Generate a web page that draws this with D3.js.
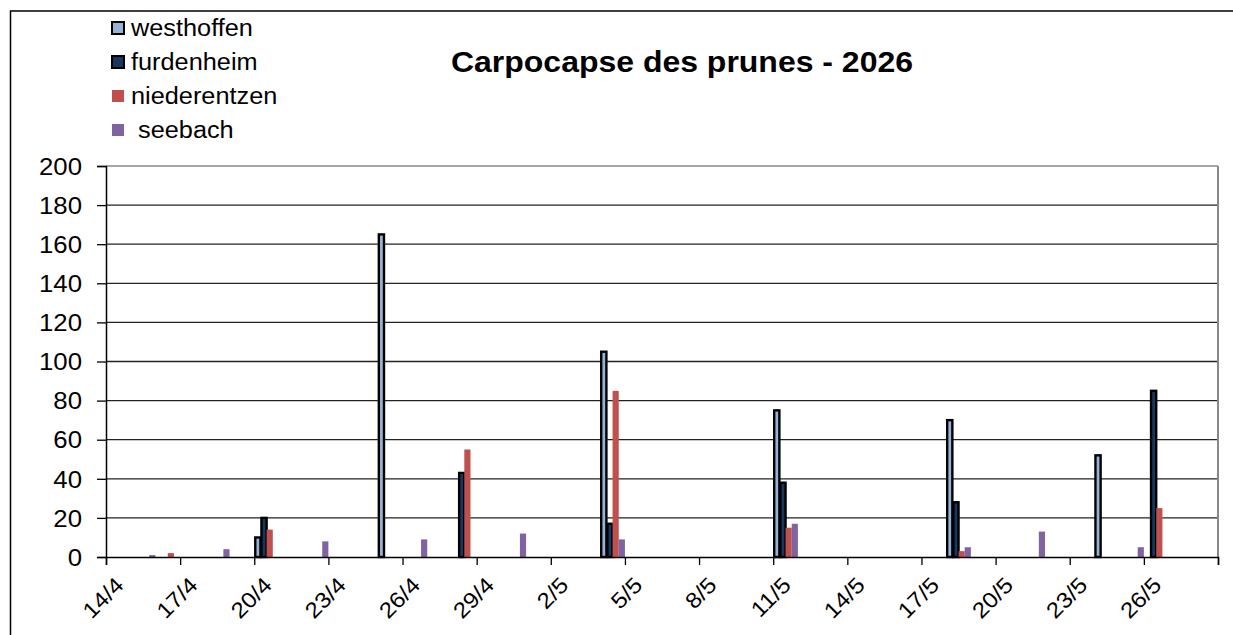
<!DOCTYPE html>
<html>
<head>
<meta charset="utf-8">
<script src="https://cdn.jsdelivr.net/npm/d3@7"></script>
<style>
  body { margin: 0; background: #fff; }
  svg { font-family: "Liberation Sans", Arial, sans-serif; }
</style>
</head>
<body>
<svg id="chart" width="1233" height="635"></svg>
<script>
// sampling dates and catches per trap
const dates        = ["15/4","16/4","18/4","20/4","22/4","25/4","26/4","28/4","30/4","4/5","11/5","18/5","21/5","24/5","25/5","26/5"];
const westhoffen   = [null, null, null, 10, null, 165, null, null, null, 105, 75, 70, null, 52, null, null];
const furdenheim   = [null, null, null, 20, null, null, null, 43, null, 17, 38, 28, null, null, null, 85];
const niederentzen = [null, 2, null, 14, null, null, null, 55, null, 85, 15, 3, null, null, null, 25];
const seebach      = [1, null, 4, null, 8, null, 9, null, 12, 9, 17, 5, 13, null, 5, null];

const seriesNames = ["westhoffen", "furdenheim", "niederentzen", " seebach"];
const seriesColors = ["#95B3D7", "#17375E", "#C0504D", "#8064A2"];
const seriesStroke = ["#000", "#000", "none", "none"];
const tickLabels = ["14/4","17/4","20/4","23/4","26/4","29/4","2/5","5/5","8/5","11/5","14/5","17/5","20/5","23/5","26/5",""];
const yTicks = [0, 20, 40, 60, 80, 100, 120, 140, 160, 180, 200];

const svg = d3.select("#chart");
const plotL = 106, plotR = 1218, plotT = 166, plotB = 557;

// the original text is a little wider than Arial, stretch it
const stretch = (sel, k) => sel.each(function() {
  const w = this.getComputedTextLength();
  if (w > 0) d3.select(this).attr("textLength", w * k).attr("lengthAdjust", "spacingAndGlyphs");
});

// outer frame
svg.append("rect")
  .attr("x", 10.5).attr("y", 11)
  .attr("width", 1240).attr("height", 640)
  .attr("fill", "none").attr("stroke", "#000").attr("stroke-width", 1.5);

// day index from 14/4
const start = new Date(2026, 3, 14);
const dayIndex = s => {
  const [d, m] = s.split("/").map(Number);
  return Math.round((new Date(2026, m - 1, d) - start) / 864e5);
};

const nDays = 45;
const x = d3.scaleLinear().domain([0, nDays]).range([plotL, plotR]);
const y = d3.scaleLinear().domain([0, 200]).range([plotB, plotT]);
const inner = d3.scaleBand().domain(d3.range(4)).range([0, x(1) - x(0)]);

// gridlines
svg.append("g")
  .selectAll("line")
  .data(yTicks.slice(1))
  .enter().append("line")
    .attr("x1", plotL).attr("x2", plotR)
    .attr("y1", d => y(d)).attr("y2", d => y(d))
    .attr("stroke", d => d === 200 ? "#888" : "#222")
    .attr("stroke-width", 1.3);

// right border of plot
svg.append("line")
  .attr("x1", plotR).attr("x2", plotR)
  .attr("y1", plotT).attr("y2", plotB)
  .attr("stroke", "#888").attr("stroke-width", 2);

// bars
const series = [westhoffen, furdenheim, niederentzen, seebach];
series.forEach((vals, i) => {
  const rows = dates.map((d, k) => ({ day: dayIndex(d), v: vals[k] })).filter(r => r.v != null);
  const stroked = seriesStroke[i] !== "none";
  svg.append("g")
    .selectAll("rect")
    .data(rows)
    .enter().append("rect")
      .attr("x", r => x(r.day) + inner(i) + (stroked ? 1 : 0))
      .attr("y", r => y(r.v))
      .attr("width", inner.bandwidth() - (stroked ? 1 : 0))
      .attr("height", r => plotB - y(r.v))
      .attr("fill", seriesColors[i])
      .attr("stroke", seriesStroke[i])
      .attr("stroke-width", 2.4);
});

// y axis
const yAxis = svg.append("g")
  .attr("transform", `translate(${plotL},0)`)
  .call(d3.axisLeft(y).tickValues(yTicks).tickSize(9).tickPadding(15));
yAxis.select(".domain").attr("stroke", "#000").attr("stroke-width", 1.5);
yAxis.selectAll(".tick line").attr("stroke", "#000").attr("stroke-width", 1.3);
yAxis.selectAll("text").style("font-size", "23px").attr("fill", "#000").attr("dy", "0.36em")
  .call(stretch, 1.12);

// x axis
const xAxis = svg.append("g")
  .attr("transform", `translate(0,${plotB})`)
  .call(d3.axisBottom(x).tickValues(d3.range(0, nDays + 1, 3)).tickSize(8)
    .tickFormat((d, i) => tickLabels[i]));
xAxis.select(".domain").attr("stroke", "#000").attr("stroke-width", 1.5);
xAxis.selectAll(".tick line").attr("stroke", "#000").attr("stroke-width", 1.3);
xAxis.selectAll("text")
  .style("font-size", "22px").attr("fill", "#000")
  .attr("text-anchor", "end")
  .attr("dy", "0.35em")
  .attr("transform", "translate(13,24) rotate(-45)")
  .attr("y", 0).attr("x", 0)
  .call(stretch, 1.1);

// title
svg.append("text")
  .attr("x", 682).attr("y", 72)
  .attr("text-anchor", "middle")
  .style("font-size", "29px").style("font-weight", "bold")
  .text("Carpocapse des prunes - 2026")
  .attr("textLength", 462)
  .attr("lengthAdjust", "spacingAndGlyphs");

// legend
const legend = svg.append("g").attr("transform", "translate(112,28)");
seriesNames.forEach((name, i) => {
  const gy = i * 34;
  legend.append("rect")
    .attr("x", 0).attr("y", gy - 6)
    .attr("width", 12).attr("height", 12)
    .attr("fill", seriesColors[i])
    .attr("stroke", seriesStroke[i]).attr("stroke-width", 2);
  legend.append("text")
    .attr("x", 19).attr("y", gy)
    .attr("dy", "0.36em")
    .style("font-size", "23px")
    .attr("xml:space", "preserve")
    .text(name)
    .call(stretch, 1.1);
});
</script>
</body>
</html>
